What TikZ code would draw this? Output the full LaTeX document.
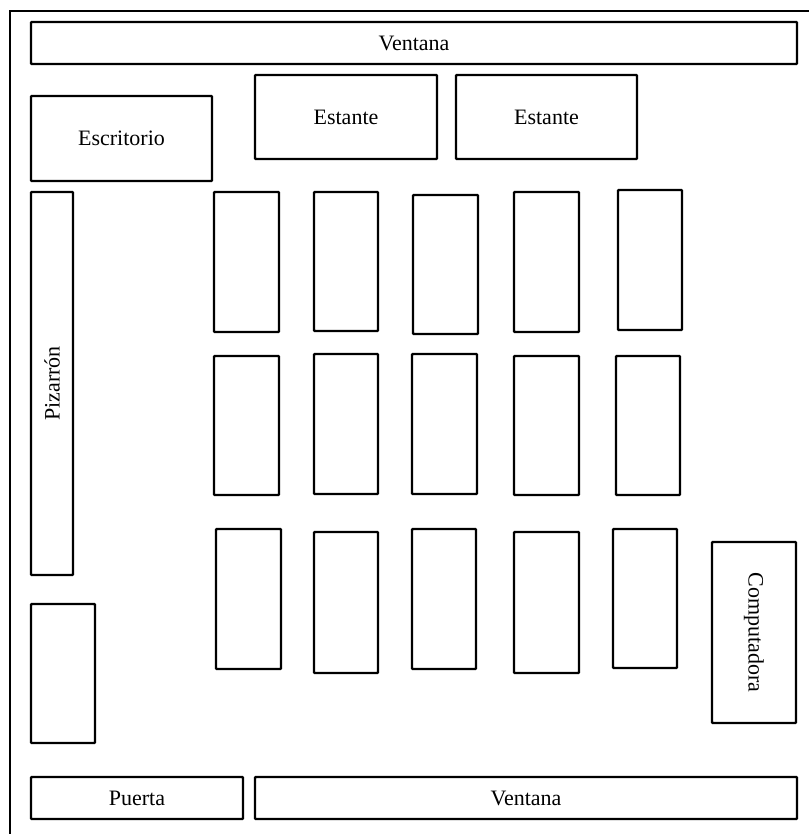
\documentclass[tikz,border=0pt]{standalone}
\usepackage{fontspec}
\setmainfont{Liberation Serif}
\usetikzlibrary{fit}
\begin{document}
\begin{tikzpicture}[x=0.75pt,y=-0.75pt,
  box/.style={draw, line width=1.8pt, inner sep=0pt, fill=white, rounded corners=0.6pt},
  lbl/.style={font=\fontsize{16.5}{19}\selectfont, inner sep=0pt},
  frame/.style={line width=1.8pt}]
\useasboundingbox[fill=white] (0,0) rectangle (809,834);
\coordinate (fbl) at (10,834);
\coordinate (ftl) at (10,11);
\coordinate (ftr) at (809,11);
\draw[frame] (fbl) -- (ftl) -- (ftr);
\node[box, fit={(31,22)(797,64)}] (ventanaA) {};
\node[lbl] at (ventanaA.center) {Ventana};
\node[box, fit={(31,96)(212,181)}] (escritorio) {};
\node[lbl] at (escritorio.center) {Escritorio};
\node[box, fit={(255,75)(437,159)}] (estanteA) {};
\node[lbl] at (estanteA.center) {Estante};
\node[box, fit={(456,75)(637,159)}] (estanteB) {};
\node[lbl] at (estanteB.center) {Estante};
\node[box, fit={(31,192)(73,575)}] (pizarron) {};
\node[lbl, rotate=90] (pizlbl) at (pizarron.center) {Pizarrón};
\node[box, fit={(31,604)(95,743)}] (mueble) {};
\node[box, fit={(31,777)(243,819)}] (puerta) {};
\node[lbl] at (puerta.center) {Puerta};
\node[box, fit={(255,777)(797,819)}] (ventanaB) {};
\node[lbl] at (ventanaB.center) {Ventana};
\node[box, fit={(712,542)(796,723)}] (compu) {};
\node[lbl, rotate=-90] (complbl) at (compu.center) {Computadora};
% desks row 1
\node[box, fit={(214,192)(279,332)}] (d11) {};
\node[box, fit={(314,192)(378,331)}] (d12) {};
\node[box, fit={(413,195)(478,334)}] (d13) {};
\node[box, fit={(514,192)(579,332)}] (d14) {};
\node[box, fit={(618,190)(682,330)}] (d15) {};
% row 2
\node[box, fit={(214,356)(279,495)}] (d21) {};
\node[box, fit={(314,354)(378,494)}] (d22) {};
\node[box, fit={(412,354)(477,494)}] (d23) {};
\node[box, fit={(514,356)(579,495)}] (d24) {};
\node[box, fit={(616,356)(680,495)}] (d25) {};
% row 3
\node[box, fit={(216,529)(281,669)}] (d31) {};
\node[box, fit={(314,532)(378,673)}] (d32) {};
\node[box, fit={(412,529)(476,669)}] (d33) {};
\node[box, fit={(514,532)(579,673)}] (d34) {};
\node[box, fit={(613,529)(677,668)}] (d35) {};
\end{tikzpicture}
\end{document}
